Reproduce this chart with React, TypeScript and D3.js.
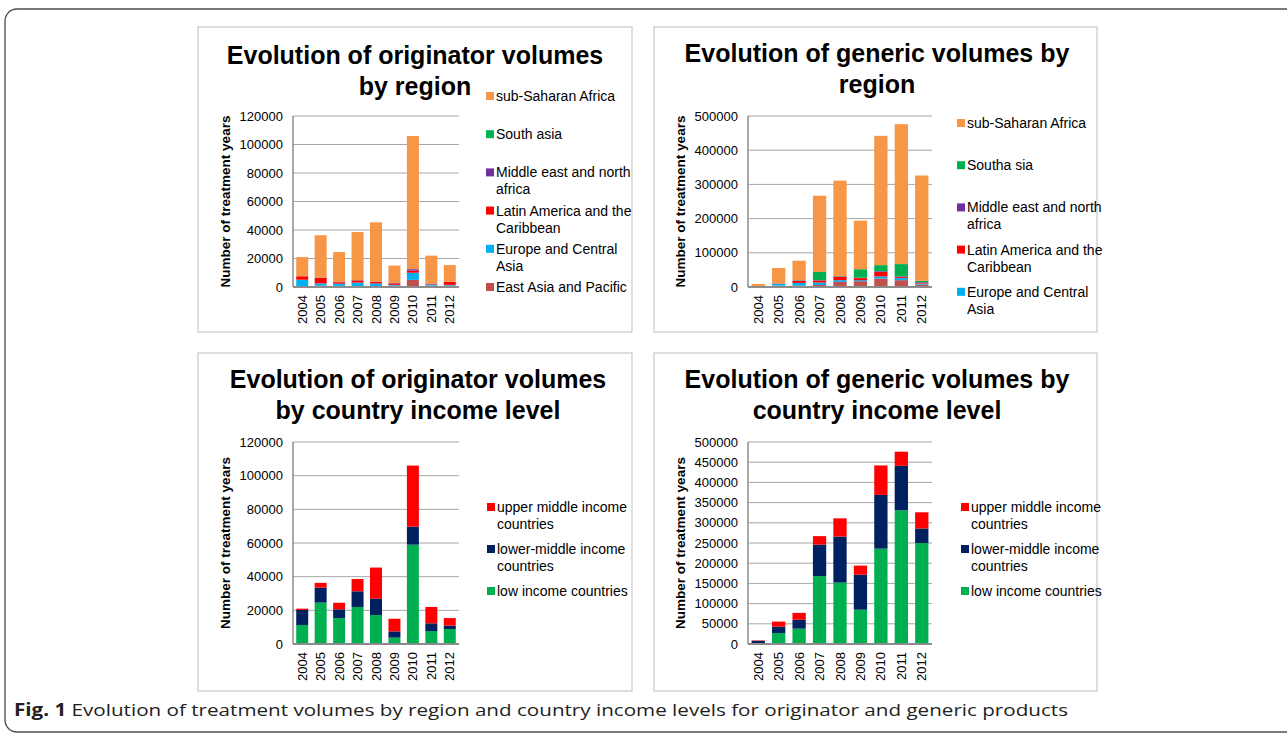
import React from "react";
import * as d3 from "d3";

// years on the category axis
const years = ["2004", "2005", "2006", "2007", "2008", "2009", "2010", "2011", "2012"];

// originator volumes by region (treatment years)
const origEastAsia = [300, 1000, 800, 600, 500, 1000, 5000, 1000, 1000];
const origEurope = [4800, 1500, 1500, 2500, 2000, 500, 5000, 800, 500];
const origLatin = [2400, 4000, 1000, 1500, 1000, 1000, 1500, 500, 2000];
const origMena = [100, 200, 200, 200, 200, 300, 1000, 200, 200];
const origSouthAsia = [0, 0, 0, 0, 0, 0, 0, 0, 0];
const origSSA = [13400, 29600, 21000, 33800, 41700, 12200, 93500, 19500, 11700];

// generic volumes by region
const genEastAsia = [1000, 4000, 4000, 6000, 15000, 17000, 25000, 20000, 7000];
const genEurope = [500, 5000, 8000, 7000, 5000, 3000, 6000, 6000, 3000];
const genLatin = [0, 1000, 6000, 6000, 10000, 6000, 13000, 3000, 2000];
const genMena = [0, 500, 1000, 1000, 1000, 1000, 2000, 2000, 2000];
const genSouthAsia = [0, 0, 1000, 24000, 1000, 25000, 18000, 36000, 4000];
const genSSA = [7500, 45000, 57000, 223000, 279000, 142000, 378000, 409000, 308000];

// originator volumes by income level
const origLow = [11300, 24600, 15400, 22000, 17200, 3800, 59000, 7700, 8900];
const origLowerMid = [8900, 8900, 5200, 9300, 9700, 3700, 10700, 4600, 2000];
const origUpperMid = [800, 2800, 3900, 7300, 18500, 7500, 36300, 9700, 4500];

// generic volumes by income level
const genLow = [1500, 27000, 38000, 168000, 152000, 85000, 236000, 331000, 250000];
const genLowerMid = [6500, 16000, 22000, 78000, 114000, 86500, 133000, 110000, 36000];
const genUpperMid = [1000, 12500, 17000, 21000, 45000, 22500, 73000, 35000, 40000];

const FONT = "'Liberation Sans', Arial, Helvetica, sans-serif";

type Series = { key: string; label: string[]; color: string; values: number[] };

const regionSeries = (v: number[][], southLabel: string): Series[] => [
  { key: "ea", label: ["East Asia and Pacific"], color: "#C0504D", values: v[0] },
  { key: "eu", label: ["Europe and Central", "Asia"], color: "#00B0F0", values: v[1] },
  { key: "la", label: ["Latin America and the", "Caribbean"], color: "#FF0000", values: v[2] },
  { key: "me", label: ["Middle east and north", "africa"], color: "#7030A0", values: v[3] },
  { key: "sa", label: [southLabel], color: "#00B050", values: v[4] },
  { key: "ssa", label: ["sub-Saharan Africa"], color: "#F79646", values: v[5] },
];

const incomeSeries = (v: number[][]): Series[] => [
  { key: "low", label: ["low income countries"], color: "#00B050", values: v[0] },
  { key: "lm", label: ["lower-middle income", "countries"], color: "#002060", values: v[1] },
  { key: "um", label: ["upper middle income", "countries"], color: "#FF0000", values: v[2] },
];

type PanelProps = {
  box: [number, number, number, number];
  title: string[];
  titleX: number;
  titleY: number;
  plot: { left: number; right: number; top: number; bottom: number };
  max: number;
  step: number;
  series: Series[];
  legendCount: number;
  legendX: number;
  legendY: number;
  legendGap: number;
};

function Panel(p: PanelProps) {
  const [bx, by, bw, bh] = p.box;
  const { left, right, top, bottom } = p.plot;
  const x = d3.scaleBand<string>().domain(years).range([left, right]).paddingInner(0.35).paddingOuter(0.175);
  const y = d3.scaleLinear().domain([0, p.max]).range([bottom, top]);
  const ticks = d3.range(0, p.max + 1, p.step);
  const rows = years.map((yr, i) => {
    const r: any = { year: yr };
    p.series.forEach((s) => (r[s.key] = s.values[i]));
    return r;
  });
  const stacked = d3.stack<any>().keys(p.series.map((s) => s.key))(rows);
  const legendItems = p.series.slice().reverse().slice(0, p.legendCount);

  return (
    <g>
      <rect x={bx} y={by} width={bw} height={bh} fill="#fff" stroke="#BDBDBD" strokeWidth={1} />
      {p.title.map((t, i) => (
        <text key={i} x={p.titleX} y={p.titleY + i * 31} textAnchor="middle" fontSize={25} fontWeight="bold" fontFamily={FONT} fill="#000">
          {t}
        </text>
      ))}
      {ticks.slice(1).map((t) => (
        <line key={t} x1={left} x2={right} y1={y(t)} y2={y(t)} stroke="#A6A6A6" strokeWidth={1} />
      ))}
      {ticks.map((t) => (
        <text key={"l" + t} x={left - 10} y={y(t)} dy="0.35em" textAnchor="end" fontSize={13} fontFamily={FONT} fill="#000">
          {t}
        </text>
      ))}
      {stacked.map((layer, li) => (
        <g key={layer.key} fill={p.series[li].color}>
          {layer.map((d, i) =>
            d[1] - d[0] > 0 ? (
              <rect key={i} x={x(years[i])} y={y(d[1])} width={x.bandwidth()} height={y(d[0]) - y(d[1])} />
            ) : null
          )}
        </g>
      ))}
      <line x1={left} x2={left} y1={top} y2={bottom} stroke="#8C8C8C" strokeWidth={1.5} />
      <line x1={left} x2={right} y1={bottom} y2={bottom} stroke="#8C8C8C" strokeWidth={2} />
      {years.map((yr) => (
        <text
          key={yr}
          transform={`translate(${(x(yr) as number) + x.bandwidth() / 2},${bottom + 8}) rotate(-90)`}
          dy="0.35em"
          textAnchor="end"
          fontSize={13}
          fontFamily={FONT}
          fill="#000"
        >
          {yr}
        </text>
      ))}
      <text
        transform={`translate(${left - 68},${(top + bottom) / 2}) rotate(-90)`}
        textAnchor="middle"
        dy="0.35em"
        fontSize={13.5}
        fontWeight="bold"
        fontFamily={FONT}
        fill="#000"
      >
        Number of treatment years
      </text>
      {legendItems.map((s, i) => {
        const ly = p.legendY + i * p.legendGap;
        return (
          <g key={s.key}>
            <rect x={p.legendX} y={ly - 4} width={8} height={8} fill={s.color} />
            {s.label.map((ln, j) => (
              <text key={j} x={p.legendX + 10} y={ly + j * 17} dy="0.35em" fontSize={14} fontFamily={FONT} fill="#000">
                {ln}
              </text>
            ))}
          </g>
        );
      })}
    </g>
  );
}

export default function App() {
  const origRegion = regionSeries([origEastAsia, origEurope, origLatin, origMena, origSouthAsia, origSSA], "South asia");
  const genRegion = regionSeries([genEastAsia, genEurope, genLatin, genMena, genSouthAsia, genSSA], "Southa sia");
  const origIncome = incomeSeries([origLow, origLowerMid, origUpperMid]);
  const genIncome = incomeSeries([genLow, genLowerMid, genUpperMid]);

  return (
    <svg width={1287} height={735} style={{ position: "absolute", left: 0, top: 0, background: "#fff" }}>
      <rect x={5} y={9} width={1300} height={723} rx={12} fill="#fff" stroke="#4D4D4D" strokeWidth={1.3} />
      <Panel
        box={[198, 27, 434, 305]}
        title={["Evolution of originator volumes", "by region"]}
        titleX={415}
        titleY={64}
        plot={{ left: 293, right: 459, top: 116, bottom: 287 }}
        max={120000}
        step={20000}
        series={origRegion}
        legendCount={6}
        legendX={486}
        legendY={96}
        legendGap={38.2}
      />
      <Panel
        box={[654, 27, 443, 305]}
        title={["Evolution of generic volumes by", "region"]}
        titleX={877}
        titleY={62}
        plot={{ left: 748, right: 932, top: 116, bottom: 287 }}
        max={500000}
        step={100000}
        series={genRegion}
        legendCount={5}
        legendX={957}
        legendY={123}
        legendGap={42.2}
      />
      <Panel
        box={[198, 353, 434, 338]}
        title={["Evolution of originator volumes", "by country income level"]}
        titleX={418}
        titleY={388}
        plot={{ left: 293, right: 459, top: 442, bottom: 644 }}
        max={120000}
        step={20000}
        series={origIncome}
        legendCount={3}
        legendX={487}
        legendY={507}
        legendGap={42}
      />
      <Panel
        box={[654, 353, 443, 338]}
        title={["Evolution of generic volumes by", "country income level"]}
        titleX={877}
        titleY={388}
        plot={{ left: 748, right: 932, top: 442, bottom: 644 }}
        max={500000}
        step={50000}
        series={genIncome}
        legendCount={3}
        legendX={961}
        legendY={507}
        legendGap={42}
      />
      <text x={14} y={716} fontSize={17} fontFamily="'Open Sans', 'Noto Sans', sans-serif" fill="#231F20" textLength={1054} lengthAdjust="spacingAndGlyphs">
        <tspan fontWeight="bold">Fig. 1</tspan>
        <tspan> Evolution of treatment volumes by region and country income levels for originator and generic products</tspan>
      </text>
    </svg>
  );
}
